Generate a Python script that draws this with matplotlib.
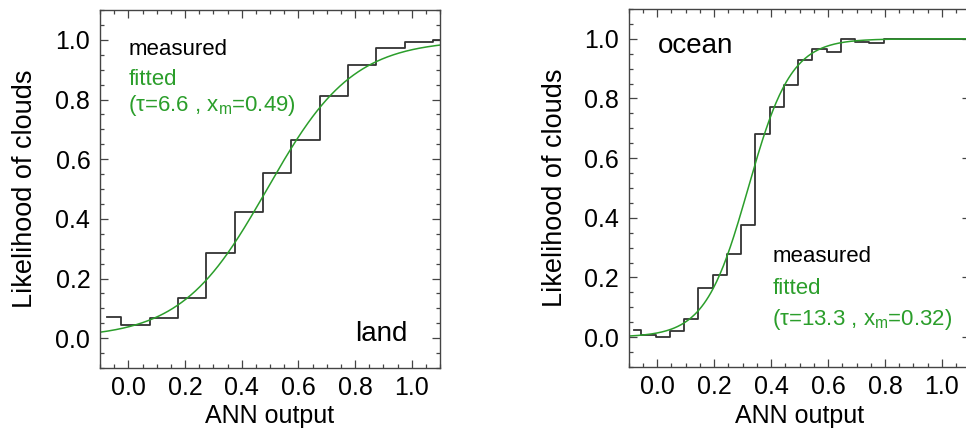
import numpy as np
import matplotlib
matplotlib.use('Agg')
import matplotlib.pyplot as plt
from matplotlib.ticker import MultipleLocator

plt.rcParams['font.family'] = ['Liberation Sans', 'DejaVu Sans']
plt.rcParams['mathtext.fontset'] = 'custom'
plt.rcParams['mathtext.rm'] = 'Liberation Sans'

# measured likelihood (histogram steps)
land_x = [-0.075, 0.025, 0.125, 0.225, 0.325, 0.425, 0.525, 0.625,
          0.725, 0.825, 0.925, 1.025, 1.125]
land_y = [0.070, 0.045, 0.067, 0.134, 0.285, 0.424, 0.555, 0.665,
          0.813, 0.916, 0.974, 0.994, 1.0]

ocean_x = [-0.08, -0.03, 0.02, 0.07, 0.12, 0.17, 0.22, 0.27, 0.32, 0.37,
           0.42, 0.47, 0.52, 0.57, 0.62, 0.67, 0.72, 0.77, 0.82, 0.87,
           0.92, 0.97, 1.02, 1.07, 1.12]
ocean_y = [0.025, 0.006, 0.0, 0.022, 0.061, 0.166, 0.209, 0.280, 0.376, 0.680,
           0.773, 0.845, 0.928, 0.967, 0.956, 1.0, 0.991, 0.986, 1.0, 1.0,
           1.0, 1.0, 1.0, 1.0, 1.0]

# fit parameters printed on the chart
land_tau, land_xm = 6.6, 0.49
ocean_tau, ocean_xm = 13.3, 0.32

green = '#2b9e2b'
xfit = np.linspace(-0.1, 1.1, 300)


def logistic(x, tau, xm):
    return 1.0 / (1.0 + np.exp(-tau * (x - xm)))


def style_axes(ax):
    ax.set_xlim(-0.1, 1.1)
    ax.set_ylim(-0.1, 1.1)
    ax.xaxis.set_major_locator(MultipleLocator(0.2))
    ax.xaxis.set_minor_locator(MultipleLocator(0.05))
    ax.yaxis.set_major_locator(MultipleLocator(0.2))
    ax.yaxis.set_minor_locator(MultipleLocator(0.05))
    ax.xaxis.set_major_formatter(lambda v, p: '%.1f' % v)
    ax.yaxis.set_major_formatter(lambda v, p: '%.1f' % v)
    ax.tick_params(which='both', direction='in', top=True, right=True,
                   color='#444444', width=0.9)
    ax.tick_params(which='major', length=5.5, labelsize=18)
    ax.tick_params(which='minor', length=3)
    ax.tick_params(axis='x', pad=6)
    ax.tick_params(axis='y', pad=7)
    for s in ax.spines.values():
        s.set_color('#444444')
        s.set_linewidth(1.0)
    ax.set_xlabel('ANN output', fontsize=18)
    ax.set_ylabel('Likelihood of clouds', fontsize=19.5)
    ax.xaxis.label.set_va('baseline')
    ax.yaxis.label.set_va('center')


def fit_label(tau, xm):
    return '(τ=%.1f , x$_\\mathrm{m}$=%.2f)' % (tau, xm)


fig = plt.figure(figsize=(9.66, 4.41), dpi=100)
ax1 = fig.add_axes([100/966, 73/441, 340/966, 358/441])
ax2 = fig.add_axes([628.5/966, 74/441, 342/966, 358/441])

# land
ax1.step(land_x, land_y, where='mid', color='#333333', lw=1.3)
ax1.plot(xfit, logistic(xfit, land_tau, land_xm), color=green, lw=1.1)
style_axes(ax1)
ax1.xaxis.set_label_coords(0.5, (368 - 423) / 358)
ax1.yaxis.set_label_coords((25 - 100) / 340, 0.5)
ax1.text(0.0, 0.948, 'measured', fontsize=16, color='black')
ax1.text(0.0, 0.847, 'fitted', fontsize=16, color=green)
ax1.text(0.0, 0.76, fit_label(land_tau, land_xm), fontsize=16, color=green)
ax1.text(0.984, -0.008, 'land', fontsize=20, ha='right')

# ocean
ax2.step(ocean_x, ocean_y, where='mid', color='#333333', lw=1.3)
ax2.plot(xfit, logistic(xfit, ocean_tau, ocean_xm), color=green, lw=1.1)
style_axes(ax2)
ax2.xaxis.set_label_coords(0.5, (367 - 423) / 358)
ax2.yaxis.set_label_coords((555 - 628.5) / 342, 0.5)
ax2.text(0.003, 0.951, 'ocean', fontsize=20)
ax2.text(0.405, 0.251, 'measured', fontsize=16, color='black')
ax2.text(0.405, 0.146, 'fitted', fontsize=16, color=green)
ax2.text(0.405, 0.04, fit_label(ocean_tau, ocean_xm), fontsize=16, color=green)

fig.savefig('out.png', dpi=100)
